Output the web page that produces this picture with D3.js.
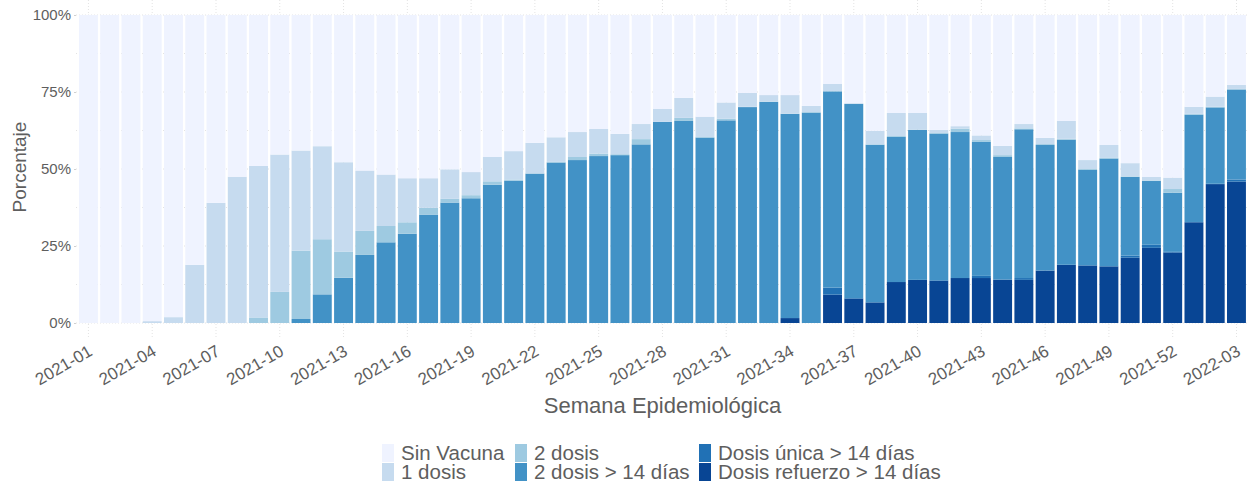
<!DOCTYPE html>
<html>
<head>
<meta charset="utf-8">
<script src="https://cdn.jsdelivr.net/npm/d3@7"></script>
<style>
  body { margin: 0; background: #fff; }
  text { font-family: "Liberation Sans", Arial, sans-serif; }
</style>
</head>
<body>
<svg width="1249" height="484"></svg>
<script>

// semanas epidemiologicas
var weeks = ["2021-01","2021-02","2021-03","2021-04","2021-05","2021-06","2021-07","2021-08","2021-09","2021-10",
  "2021-11","2021-12","2021-13","2021-14","2021-15","2021-16","2021-17","2021-18","2021-19","2021-20",
  "2021-21","2021-22","2021-23","2021-24","2021-25","2021-26","2021-27","2021-28","2021-29","2021-30",
  "2021-31","2021-32","2021-33","2021-34","2021-35","2021-36","2021-37","2021-38","2021-39","2021-40",
  "2021-41","2021-42","2021-43","2021-44","2021-45","2021-46","2021-47","2021-48","2021-49","2021-50",
  "2021-51","2021-52","2022-01","2022-02","2022-03"];

var tickLabels = ["2021-01","2021-04","2021-07","2021-10","2021-13","2021-16","2021-19","2021-22","2021-25",
  "2021-28","2021-31","2021-34","2021-37","2021-40","2021-43","2021-46","2021-49","2021-52","2022-03"];

// porcentajes por semana
var refuerzo = [0,0,0,0,0,0,0,0,0,0, 0,0,0,0,0,0,0,0,0,0, 0,0,0,0,0,0,0,0,0,0, 0,0,0,1.6,0,9.2,7.9,6.7,13.3,14.0,
  13.7,14.6,14.6,14.1,14.0,17.0,18.9,18.7,18.4,21.2, 24.4,22.9,32.7,45.1,45.9];
var unica = [0,0,0,0,0,0,0,0,0,0, 0,0,0,0,0,0,0,0,0,0, 0,0,0,0,0,0,0,0,0,0, 0,0,0,0,0,2.3,0.2,0,0,0,
  0.2,0,0.7,0,0.6,0.1,0,0,0,0.7, 1.0,0.2,0.1,0.1,0.7];
var dos14 = [0,0,0,0,0,0,0,0,0,0, 1.3,9.3,14.7,22.1,26.2,29.0,35.2,39.1,40.5,44.9, 46.2,48.5,52.1,52.9,54.2,54.5,58.0,65.3,65.6,60.2,
  65.8,70.1,71.8,66.3,68.3,63.7,63.0,51.2,47.1,48.7, 47.6,47.4,43.5,39.8,48.3,40.7,40.6,31.0,35.0,25.5, 20.7,19.2,34.8,24.8,29.2];
var dos = [0,0,0,0,0,0,0,0,1.8,10.1, 22.2,17.9,8.5,7.8,5.3,3.7,2.2,1.2,1.0,1.1, 0.4,0.1,0.2,1.0,0.8,0.3,1.7,0,1.0,0.2,
  0.5,0.1,0.1,0.1,0.2,0.1,0.1,0.1,0.3,0.1, 0.2,1.1,0.6,0.6,0.3,0.3,0.3,0.3,0.2,0.2, 0.2,1.2,0.3,0.2,0.2];
var una = [0,0,0,0.6,1.9,18.9,39.0,47.5,49.2,44.6, 32.5,30.2,29.0,19.6,16.7,14.3,9.6,9.6,7.5,7.9, 9.2,9.9,8.0,8.1,8.0,6.6,4.9,4.2,6.5,6.6,
  5.3,4.5,2.1,6.0,2.0,2.3,0.2,4.4,7.5,5.4, 1.0,0.8,1.5,3.0,1.4,2.0,5.8,2.9,4.2,4.3, 1.1,3.7,2.3,3.3,1.3];
var sinVacuna = [100,100,100,99.4,98.1,81.1,61.0,52.5,49.0,45.3, 44.0,42.6,47.8,50.5,51.8,53.0,53.0,50.1,51.0,46.1,
  44.2,41.5,39.7,38.0,37.0,38.6,35.4,30.5,26.9,33.0, 28.4,25.3,26.0,26.0,29.5,22.4,28.6,37.6,31.8,31.8,
  37.3,36.1,39.1,42.5,35.4,39.9,34.4,47.1,42.2,48.1, 52.6,52.8,29.8,26.5,22.7];

var keys = ["refuerzo","unica","dos14","dos","una","sinVacuna"];
var labels = {
  sinVacuna: "Sin Vacuna", una: "1 dosis", dos: "2 dosis", dos14: "2 dosis > 14 días",
  unica: "Dosis única > 14 días", refuerzo: "Dosis refuerzo > 14 días"
};
var colors = {
  sinVacuna: "#eff3ff", una: "#c6dbef", dos: "#9ecae1", dos14: "#4292c6",
  unica: "#2171b5", refuerzo: "#084594"
};
var legendOrder = ["sinVacuna","una","dos","dos14","unica","refuerzo"];

var table = weeks.map(function(w, i) {
  return { week: w, refuerzo: refuerzo[i], unica: unica[i], dos14: dos14[i],
           dos: dos[i], una: una[i], sinVacuna: sinVacuna[i] };
});

var svg = d3.select("svg"),
  textColor = "#5e5e5e",
  panelLeft = 76, panelRight = 1249, panelTop = 0, panelBottom = 338;

var x = d3.scaleBand()
  .domain(weeks)
  .range([77.8, 1247.1])
  .paddingInner(0.11)
  .paddingOuter(0.055);

var y = d3.scaleLinear()
  .domain([0, 100])
  .range([323, 15]);

// grid
var grid = svg.append("g").attr("class", "grid")
  .attr("stroke", "#e3e3e3")
  .attr("stroke-dasharray", "1,2");

grid.selectAll(".hgrid")
  .data(d3.range(0, 100.1, 12.5))
  .enter().append("line")
  .attr("x1", panelLeft).attr("x2", panelRight)
  .attr("y1", function(d) { return y(d); })
  .attr("y2", function(d) { return y(d); });

grid.selectAll(".vgrid")
  .data(tickLabels)
  .enter().append("line")
  .attr("x1", function(d) { return x(d) + x.bandwidth() / 2; })
  .attr("x2", function(d) { return x(d) + x.bandwidth() / 2; })
  .attr("y1", panelTop).attr("y2", panelBottom);

// barras
var series = d3.stack().keys(keys)(table);

svg.append("g").attr("class", "bars")
  .selectAll("g")
  .data(series)
  .enter().append("g")
  .attr("fill", function(d) { return colors[d.key]; })
  .selectAll("rect")
  .data(function(d) { return d; })
  .enter().append("rect")
  .attr("x", function(d) { return x(d.data.week); })
  .attr("width", x.bandwidth())
  .attr("y", function(d) { return y(d[1]); })
  .attr("height", function(d) { return Math.max(0, y(d[0]) - y(d[1])); });

// eje y
var yAxis = svg.append("g")
  .attr("transform", "translate(" + panelLeft + ",0)")
  .call(d3.axisLeft(y).tickValues([0, 25, 50, 75, 100])
    .tickFormat(function(d) { return d + "%"; })
    .tickSize(2).tickPadding(3));
yAxis.select(".domain").remove();
yAxis.selectAll("line").attr("stroke", "#d0d0d0");
yAxis.selectAll("text")
  .attr("fill", textColor)
  .style("font-size", "15px");

// eje x
var xAxis = svg.append("g")
  .attr("transform", "translate(0," + panelBottom + ")")
  .call(d3.axisBottom(x).tickValues(tickLabels).tickSize(0));
xAxis.select(".domain").remove();
xAxis.selectAll("text")
  .attr("fill", textColor)
  .style("font-size", "17px")
  .attr("text-anchor", "end")
  .attr("x", 0)
  .attr("y", 0)
  .attr("dy", "0.72em")
  .attr("transform", "translate(-1,6) rotate(-30)");

// titulos
svg.append("text")
  .attr("x", (panelLeft + panelRight) / 2)
  .attr("y", 413)
  .attr("text-anchor", "middle")
  .attr("fill", textColor)
  .style("font-size", "22px")
  .text("Semana Epidemiológica");

svg.append("text")
  .attr("transform", "translate(26,167) rotate(-90)")
  .attr("text-anchor", "middle")
  .attr("fill", textColor)
  .style("font-size", "19px")
  .text("Porcentaje");

// leyenda
var colX = [382, 515, 699];
var legend = svg.append("g").attr("class", "legend")
  .selectAll("g")
  .data(legendOrder)
  .enter().append("g")
  .attr("transform", function(d, i) {
    return "translate(" + colX[Math.floor(i / 2)] + "," + (444 + (i % 2) * 19) + ")";
  });

legend.append("rect")
  .attr("width", 12)
  .attr("height", 18)
  .attr("fill", function(d) { return colors[d]; });

legend.append("text")
  .attr("x", 19)
  .attr("y", 9)
  .attr("dy", "0.35em")
  .attr("fill", textColor)
  .style("font-size", "20.5px")
  .text(function(d) { return labels[d]; });

</script>
</body>
</html>
